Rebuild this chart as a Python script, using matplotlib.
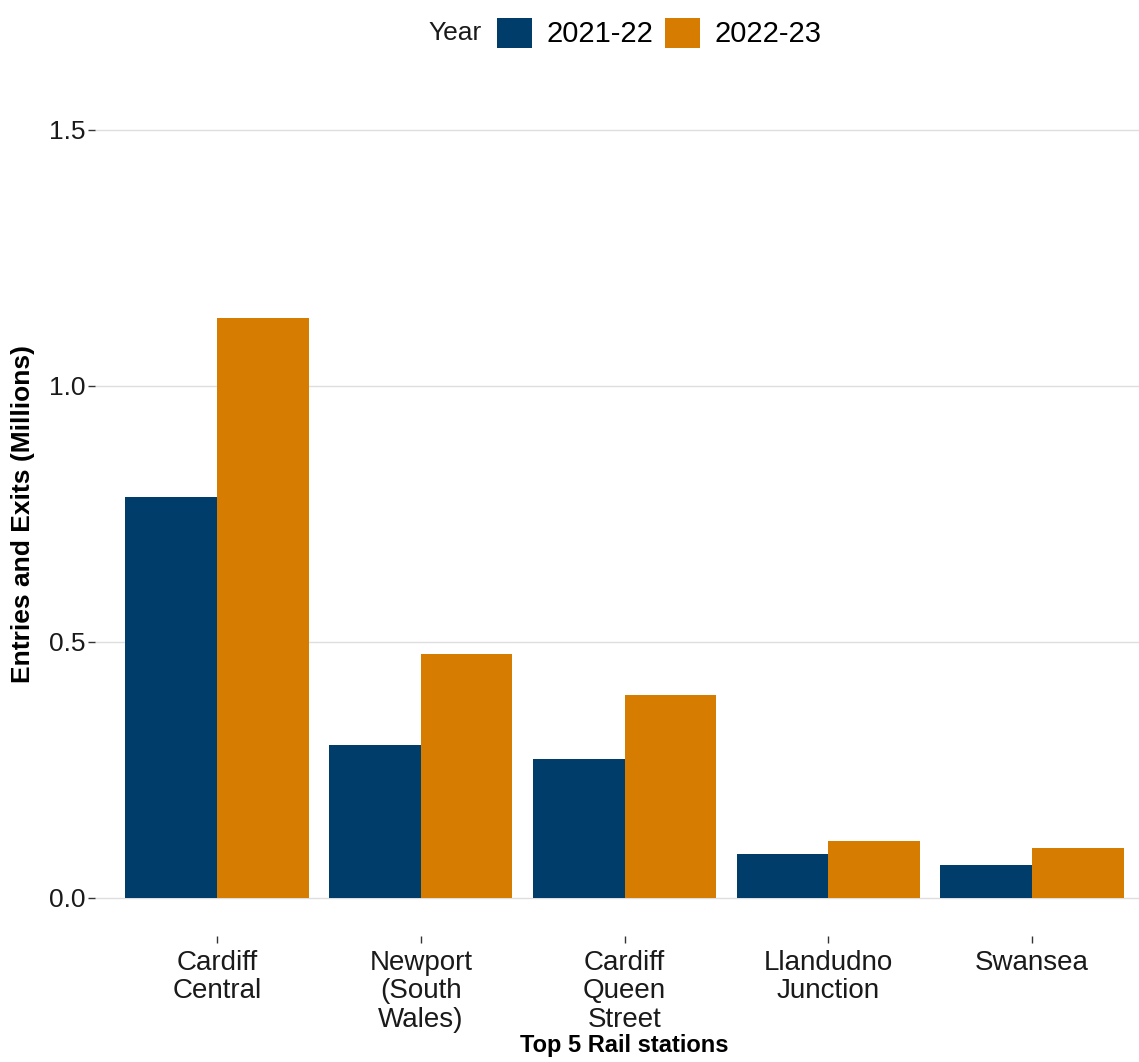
import matplotlib
matplotlib.use("Agg")
import matplotlib.pyplot as plt
import numpy as np
from matplotlib.patches import Patch

stations = ["Cardiff\nCentral", "Newport\n(South\nWales)", "Cardiff\nQueen\nStreet", "Llandudno\nJunction", "Swansea"]
years = ["2021-22", "2022-23"]
values_2122 = [0.783, 0.299, 0.270, 0.086, 0.064]
values_2223 = [1.133, 0.477, 0.395, 0.111, 0.096]
yticks = [0.0, 0.5, 1.0, 1.5]
ytick_labels = ["0.0", "0.5", "1.0", "1.5"]
colors = ["#013D6A", "#D67C00"]

plt.rcParams['font.family'] = ['Liberation Sans', 'DejaVu Sans']

W, H = 1139, 1062
fig = plt.figure(figsize=(W / 100, H / 100), dpi=100)
left_px, right_px = 94.75, 1154.25
top_px, bot_px = 91.6, 936.0
ax = fig.add_axes([left_px / W, 1 - bot_px / H, (right_px - left_px) / W, (bot_px - top_px) / H])

x = np.arange(len(stations))
bw = 0.45
ax.bar(x - bw / 2, values_2122, width=bw, color=colors[0], label=years[0], zorder=2)
ax.bar(x + bw / 2, values_2223, width=bw, color=colors[1], label=years[1], zorder=2)

ax.set_xlim(-0.6, len(stations) - 1 + 0.6)
ax.set_ylim(-0.075, 1.575)
ax.set_yticks(yticks)
ax.set_yticklabels(ytick_labels)
ax.set_xticks(x)
ax.set_xticklabels(stations, linespacing=1.12)
for s in ax.spines.values():
    s.set_visible(False)
ax.grid(axis='y', color='#DEDEDE', linewidth=1.0, zorder=0)
ax.tick_params(axis='y', labelsize=19, length=5, width=1, color='#333333', pad=2, labelcolor='#1a1a1a')
ax.tick_params(axis='x', labelsize=20, length=5, width=1, color='#333333', pad=5, labelcolor='#1a1a1a')

ax.set_ylabel("Entries and Exits (Millions)", fontsize=19, fontweight='bold', labelpad=10)
ax.set_xlabel("Top 5 Rail stations", fontsize=17, fontweight='bold', labelpad=1)

handles = [Patch(facecolor=colors[0]), Patch(facecolor=colors[1])]
fig.legend(handles, years, loc='center', bbox_to_anchor=(659 / W, 1 - 33 / H), ncol=2,
           frameon=False, fontsize=21, handlelength=1.2, handleheight=1.2,
           handletextpad=0.5, columnspacing=0.4)
fig.text(482 / W, 1 - 33 / H, "Year", ha='right', va='center', fontsize=19, color='#1a1a1a')

fig.savefig("out.png", dpi=100)
